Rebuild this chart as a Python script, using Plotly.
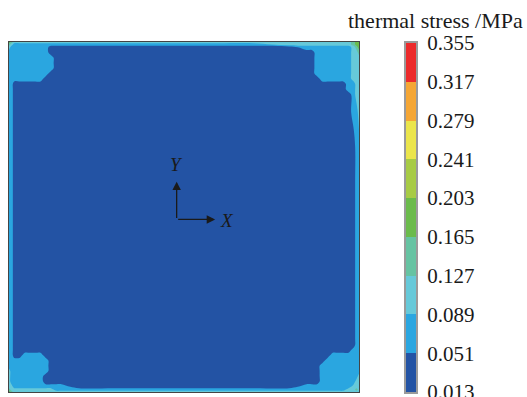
import plotly.graph_objects as go

W, H = 527, 397

# Colour-bar levels (MPa) and their labels
levels = [0.013, 0.051, 0.089, 0.127, 0.165, 0.203, 0.241, 0.279, 0.317, 0.355]
level_labels = ["0.013", "0.051", "0.089", "0.127", "0.165", "0.203", "0.241", "0.279", "0.317", "0.355"]
band_colors = ["#2353A4", "#2AA6E0", "#66C9D9", "#66C3A2", "#6BBB4B",
               "#A7CB45", "#EBE54B", "#F5A634", "#EC2A2B"]
# representative stress value of each band (MPa)
band_values = [0.032, 0.070, 0.108, 0.146, 0.184, 0.222, 0.260, 0.298, 0.336]

# Sample positions across the plate (% of side), left->right and top->bottom
x_pos = [0, 0.7, 1.5, 3, 4.5, 6, 7.5, 9, 10.5, 12, 13.5, 15,
         20, 30, 40, 50, 60, 70, 80,
         85, 86.5, 88, 89.5, 91, 92.5, 94, 95.5, 97, 98.5, 99.3, 100]
y_pos = list(x_pos)

# Stress band read at each sample point (row = y_pos, column = x_pos)
band_rows = [
    "432222222222" + "2222222" + "222222222344",
    "321111111111" + "1111112" + "222222222344",
    "211111111000" + "0000000" + "111111111234",
    "111111111000" + "0000000" + "001111111223",
    "111111111100" + "0000000" + "001111111222",
    "111111111100" + "0000000" + "001111111222",
    "111111111100" + "0000000" + "001111111222",
    "111111111000" + "0000000" + "001111111222",
    "111111110000" + "0000000" + "000111111222",
    "110000000000" + "0000000" + "000000001122",
    "110000000000" + "0000000" + "000000001122",
    "110000000000" + "0000000" + "000000000122",
    "110000000000" + "0000000" + "000000000112",
    "110000000000" + "0000000" + "000000000011",
    "110000000000" + "0000000" + "000000000011",
    "110000000000" + "0000000" + "000000000011",
    "110000000000" + "0000000" + "000000000011",
    "110000000000" + "0000000" + "000000000011",
    "110000000000" + "0000000" + "000000000011",
    "110000000000" + "0000000" + "000000000011",
    "110000000000" + "0000000" + "000000000011",
    "110000000000" + "0000000" + "000000000111",
    "110011110000" + "0000000" + "000001111111",
    "111111111000" + "0000000" + "000011111111",
    "111111111000" + "0000000" + "000111111111",
    "211111111000" + "0000000" + "000111111111",
    "211111110000" + "0000000" + "000111111112",
    "211111110000" + "0000000" + "000111111122",
    "221111111111" + "0000000" + "111111111222",
    "322222222211" + "1111111" + "111111112232",
    "432222222222" + "2222222" + "222222222222",
]
assert len(band_rows) == len(y_pos) and all(len(r) == len(x_pos) for r in band_rows)
stress = [[band_values[int(c)] for c in row] for row in band_rows]

cs = []
nb = len(band_colors)
for k, c in enumerate(band_colors):
    lo = 0.0 if k == 0 else (k + 0.5) / (nb + 1)
    hi = 1.0 if k == nb - 1 else (k + 1.5) / (nb + 1)
    cs.append([lo, c])
    cs.append([hi, c])

serif = "Liberation Serif"
ink = "#1a1a1a"

fig = go.Figure()
fig.add_trace(go.Contour(
    x=x_pos, y=y_pos, z=stress,
    colorscale=cs, showscale=False,
    contours=dict(start=levels[0], end=levels[-1], size=levels[1] - levels[0],
                  coloring="fill", showlines=False),
    line=dict(width=0),
    hoverinfo="skip",
))

# colour bar drawn as stacked bars on its own axes
fig.add_trace(go.Bar(
    x=[0] * (len(levels) - 1),
    y=[levels[k + 1] - levels[k] for k in range(len(levels) - 1)],
    base=levels[:-1],
    marker=dict(color=band_colors, line=dict(width=0)),
    width=1, xaxis="x2", yaxis="y2", hoverinfo="skip",
))

# coordinate axes arrows in the centre of the plate
ox, oy = 47.9, 50.7
fig.add_annotation(x=ox, y=39.9, ax=ox, ay=oy, xref="x", yref="y", axref="x", ayref="y",
                   showarrow=True, arrowhead=2, arrowsize=1.3, arrowwidth=1.3,
                   arrowcolor=ink, text="")
fig.add_annotation(x=58.9, y=oy, ax=ox, ay=oy, xref="x", yref="y", axref="x", ayref="y",
                   showarrow=True, arrowhead=2, arrowsize=1.3, arrowwidth=1.3,
                   arrowcolor=ink, text="")
fig.add_annotation(x=47.9, y=35.1, xref="x", yref="y", text="<i>Y</i>", showarrow=False,
                   font=dict(family=serif, size=19, color=ink))
fig.add_annotation(x=62.4, y=51.0, xref="x", yref="y", text="<i>X</i>", showarrow=False,
                   font=dict(family=serif, size=19, color=ink))

# colour-bar title
fig.add_annotation(x=525 / W, y=(H - 21) / H, xref="paper", yref="paper",
                   xanchor="right", yanchor="middle", text="thermal stress /MPa",
                   showarrow=False, font=dict(family=serif, size=22, color=ink))

fig.update_layout(
    width=W, height=H, margin=dict(l=0, r=0, t=0, b=0, autoexpand=False),
    paper_bgcolor="white", plot_bgcolor="white", showlegend=False, bargap=0,
    xaxis=dict(domain=[9 / W, 359 / W], range=[0, 100], showgrid=False, zeroline=False,
               showticklabels=False, ticks="", showline=True, mirror=True,
               linecolor="#444", linewidth=1, automargin=False),
    yaxis=dict(domain=[(H - 392) / H, (H - 42) / H], range=[100, 0], showgrid=False,
               zeroline=False, showticklabels=False, ticks="", showline=True,
               mirror=True, linecolor="#444", linewidth=1, automargin=False),
    xaxis2=dict(domain=[406 / W, 416 / W], range=[-0.5, 0.5], anchor="y2",
                showgrid=False, zeroline=False, showticklabels=False, ticks="",
                showline=True, mirror=True, linecolor="#9a9a9a", linewidth=2,
                automargin=False),
    yaxis2=dict(domain=[(H - 392) / H, (H - 43) / H], range=[levels[0], levels[-1]],
                anchor="x2", side="right", showgrid=False, zeroline=False,
                tickvals=levels, ticktext=level_labels, ticks="",
                ticklabelstandoff=5, ticklabeloverflow="allow",
                tickfont=dict(family=serif, size=21, color=ink), automargin=False,
                showline=True, mirror=True, linecolor="#9a9a9a", linewidth=2),
)

fig.write_html("out.html")
